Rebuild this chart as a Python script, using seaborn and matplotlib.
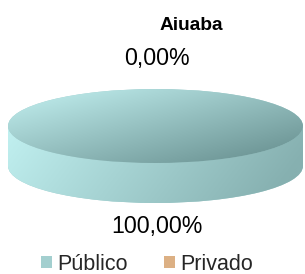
import numpy as np
import matplotlib
matplotlib.use("Agg")
import matplotlib.pyplot as plt
import matplotlib.patches as mpatches
from matplotlib.transforms import Affine2D
from matplotlib.colors import to_rgb
import seaborn as sns

sns.set_theme(style="white")
plt.rcParams['font.family'] = ['Liberation Sans', 'DejaVu Sans']

# Dados do gráfico
titulo = "Aiuaba"
categorias = ["Público", "Privado"]
valores = [100.0, 0.0]
cores = ["#a3cfcf", "#dcb084"]

# Geometria da pizza 3D (pixels)
W, H = 305, 274
cx, cy = 155.5, 126
rx, ry = 147.5, 37
prof = 40

fig = plt.figure(figsize=(W / 100, H / 100), dpi=100)
ax = fig.add_axes([0, 0, 1, 1])


def elipse(dy=0):
    return Affine2D().scale(rx, -ry).translate(cx, cy + dy) + ax.transData


def gradiente(c0, c1, pesos, box, clip, z):
    x0, x1, y0, y1 = box
    u, v = np.meshgrid(np.linspace(0, 1, 300), np.linspace(0, 1, 150))
    t = np.clip(pesos[0] * u + pesos[1] * v, 0, 1)[..., None]
    img = (1 - t) * np.array(to_rgb(c0)) + t * np.array(to_rgb(c1))
    im = ax.imshow(img, extent=(x0, x1, y1, y0), origin='upper', aspect='auto',
                   zorder=z, interpolation='bilinear')
    im.set_clip_path(clip)


# Lateral (base deslocada + faixa)
lados, _ = ax.pie(valores, colors=cores, startangle=90, counterclock=False,
                  wedgeprops=dict(linewidth=0))
for w in lados:
    w.set_transform(elipse(prof))
    w.set_zorder(1)
faixa = mpatches.Rectangle((cx - rx, cy), 2 * rx, prof, facecolor=cores[0], linewidth=0, zorder=1)
ax.add_patch(faixa)
box_lado = (cx - rx, cx + rx, cy - ry, cy + ry + prof)
gradiente("#c6f6f6", "#86b0b0", (0.85, 0.25), box_lado, lados[0], 2)
gradiente("#c6f6f6", "#86b0b0", (0.85, 0.25), box_lado, faixa, 2)

# Topo
topo, _ = ax.pie(valores, colors=cores, startangle=90, counterclock=False,
                 wedgeprops=dict(linewidth=0))
for w in topo:
    w.set_transform(elipse(0))
    w.set_zorder(3)
gradiente("#c4f2f2", "#6c9494", (0.55, 0.55), (cx - rx, cx + rx, cy - ry, cy + ry), topo[0], 4)

# Rótulos de dados
total = sum(valores)
for w, v in zip(topo, valores):
    ang = np.deg2rad((w.theta1 + w.theta2) / 2)
    s, c = np.sin(ang), np.cos(ang)
    off = 31 if s > 0 else 23
    x = cx + (rx + off) * c
    y = cy - (ry + off) * s + (prof if s < 0 else 0)
    txt = f"{v / total * 100:.2f}".replace(".", ",") + "%"
    ax.text(x + 1.5, y + 1, txt, ha='center', va='center', fontsize=16.7, color='black', zorder=5)

ax.text(191, 25, titulo, ha='center', va='center', fontsize=13.8, fontweight='bold', color='black')

handles = [mpatches.Patch(facecolor=c, linewidth=0) for c in cores]
fig.legend(handles, categorias, loc='center', bbox_to_anchor=(147 / W, 1 - 264 / H),
           ncol=2, frameon=False, fontsize=15.5, handlelength=0.52, handleheight=0.45,
           handletextpad=0.25, columnspacing=1.7, borderpad=0)

ax.set_xlim(0, W)
ax.set_ylim(H, 0)
ax.set_aspect('auto')
ax.axis('off')

fig.savefig("out.png", dpi=100)
